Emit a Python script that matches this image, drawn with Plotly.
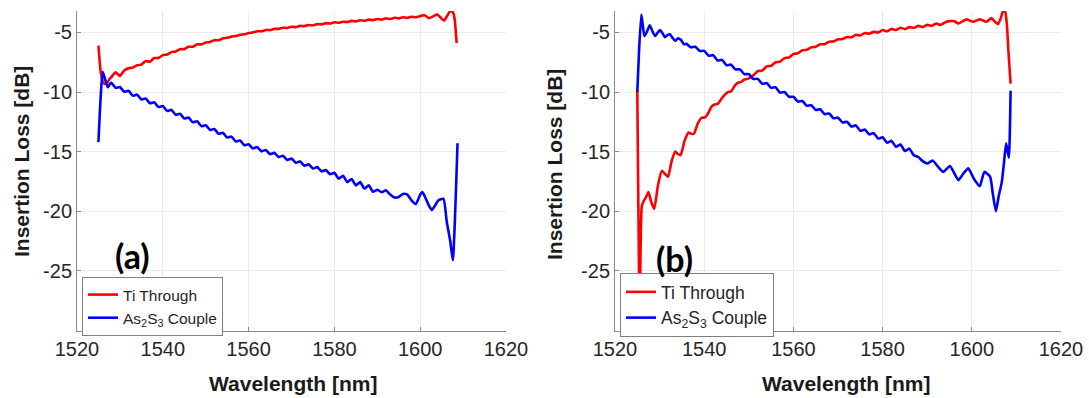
import plotly.graph_objects as go

# ---------------- Panel (a) ----------------
wl_a_ti = [1525.0, 1525.6, 1526.3, 1526.9, 1527.5,
           1528, 1529, 1530, 1531, 1532, 1533, 1534, 1535, 1536, 1537,
           1538, 1539, 1540, 1541, 1542, 1543, 1544, 1545, 1546, 1547,
           1548, 1549, 1550, 1551, 1552, 1553, 1554, 1555, 1556, 1557,
           1558, 1559, 1560, 1561, 1562, 1563, 1564, 1565, 1566, 1567,
           1568, 1569, 1570, 1571, 1572, 1573, 1574, 1575, 1576, 1577,
           1578, 1579, 1580, 1581, 1582, 1583, 1584, 1585, 1586, 1587,
           1588, 1589, 1590, 1591, 1592, 1593, 1594, 1595, 1596, 1597,
           1598, 1599, 1600, 1601, 1602, 1603, 1604, 1605,
           1605.6, 1606.3, 1607.0, 1607.6, 1608.0, 1608.5]
il_a_ti = [-6.1, -8.5, -9.3, -9.25, -8.95,
           -8.75, -8.35, -8.65, -8.2, -8.0, -7.95, -7.75, -7.7, -7.4, -7.45,
           -7.15, -7.15, -6.9, -6.85, -6.65, -6.6, -6.4, -6.4, -6.2, -6.2,
           -6.0, -6.0, -5.85, -5.8, -5.65, -5.65, -5.5, -5.45, -5.35, -5.3,
           -5.2, -5.15, -5.05, -5.0, -4.9, -4.9, -4.8, -4.8, -4.7, -4.7,
           -4.6, -4.62, -4.52, -4.55, -4.45, -4.47, -4.38, -4.4, -4.3, -4.32,
           -4.22, -4.25, -4.15, -4.18, -4.1, -4.12, -4.03, -4.07, -3.97, -4.02,
           -3.92, -3.97, -3.87, -3.92, -3.82, -3.87, -3.77, -3.82, -3.72, -3.78,
           -3.68, -3.72, -3.62, -3.55, -3.8, -3.65, -3.5, -3.85,
           -4.0, -3.6, -3.2, -3.3, -3.8, -5.9]

wl_a_as = [1525.0, 1526.0, 1526.6, 1527.2, 1527.7,
           1528, 1529, 1530, 1531, 1532, 1533, 1534, 1535, 1536, 1537,
           1538, 1539, 1540, 1541, 1542, 1543, 1544, 1545, 1546, 1547,
           1548, 1549, 1550, 1551, 1552, 1553, 1554, 1555, 1556, 1557,
           1558, 1559, 1560, 1561, 1562, 1563, 1564, 1565, 1566, 1567,
           1568, 1569, 1570, 1571, 1572, 1573, 1574, 1575, 1576, 1577,
           1578, 1579, 1580, 1581, 1582, 1583, 1584, 1585, 1586, 1587,
           1588, 1589, 1590, 1591, 1592, 1593, 1594, 1595, 1596, 1597,
           1598, 1599, 1600, 1600.5, 1601, 1602, 1602.7, 1603.5, 1604.2, 1605.4,
           1606.2, 1607.0, 1607.6, 1608.7]
il_a_as = [-14.2, -8.3, -9.0, -9.6, -9.3,
           -9.23, -9.65, -9.58, -9.98, -9.9, -10.3, -10.22, -10.62, -10.54, -10.94,
           -10.86, -11.26, -11.18, -11.58, -11.5, -11.9, -11.82, -12.22, -12.14, -12.54,
           -12.46, -12.86, -12.78, -13.18, -13.1, -13.5, -13.42, -13.82, -13.74, -14.14,
           -14.06, -14.46, -14.38, -14.74, -14.62, -14.98, -14.86, -15.22, -15.1, -15.46,
           -15.34, -15.7, -15.58, -15.94, -15.82, -16.18, -16.06, -16.42, -16.3, -16.66,
           -16.54, -16.9, -16.78, -17.27, -17.02, -17.56, -17.29, -17.83, -17.56, -18.1,
           -17.83, -18.37, -18.2, -18.4, -18.25, -18.6, -18.85, -18.8, -18.55, -18.6,
           -19.1, -19.4, -18.6, -18.4, -18.7, -19.5, -19.9, -19.5, -19.1, -18.95,
           -20.9, -22.5, -24.1, -14.3]

# ---------------- Panel (b) ----------------
wl_b_ti = [1525.0, 1525.55, 1526.0, 1526.5, 1527.0, 1527.5, 1528.1, 1528.8, 1529.6, 1530.5,
           1531.3, 1531.9, 1532.7, 1533.5, 1534.1, 1534.7, 1535.6, 1536.5, 1537.1, 1537.7,
           1538.6, 1539.5, 1540.1, 1540.7, 1541.7, 1542.3, 1543.0, 1544.0, 1544.7, 1545.3,
           1546.0, 1547.0, 1547.7, 1548.3, 1549.0, 1550, 1551, 1552, 1553, 1554,
           1555, 1556, 1557, 1558, 1559, 1560, 1561, 1562, 1563, 1564,
           1565, 1566, 1567, 1568, 1569, 1570, 1571, 1572, 1573, 1574,
           1575, 1576, 1577, 1578, 1579, 1580, 1581, 1582, 1583, 1584,
           1585, 1586, 1587, 1588, 1589, 1590, 1591, 1592, 1593, 1594,
           1595, 1596, 1597, 1598, 1598.8, 1599.5, 1600.3, 1601.0, 1601.8, 1602.5,
           1603.3, 1604.4, 1605.2, 1605.9, 1606.5, 1607.0, 1607.5, 1607.9, 1608.2, 1608.7]
il_b_ti = [-9.8, -29.0, -19.6, -19.1, -18.8, -18.4, -19.2, -19.8, -17.9, -16.6,
           -16.9, -17.1, -15.8, -15.0, -15.2, -15.3, -14.1, -13.4, -13.5, -13.5,
           -12.6, -12.15, -12.15, -11.9, -11.2, -11.05, -11.0, -10.5, -10.2, -10.0,
           -9.95, -9.4, -9.2, -9.15, -8.95, -8.85, -8.6, -8.25, -8.2, -7.85,
           -7.8, -7.5, -7.45, -7.15, -7.1, -6.8, -6.75, -6.5, -6.45, -6.25,
           -6.2, -6.0, -5.98, -5.78, -5.75, -5.58, -5.55, -5.38, -5.4, -5.2,
           -5.25, -5.05, -5.1, -4.95, -5.0, -4.8, -4.9, -4.7, -4.8, -4.6,
           -4.72, -4.55, -4.62, -4.45, -4.55, -4.35, -4.45, -4.25, -4.38, -4.15,
           -4.05, -4.05, -4.25, -4.05, -3.9, -4.0, -4.1, -4.0, -3.9, -4.0,
           -4.1, -3.8, -4.1, -4.3, -3.8, -3.2, -3.3, -4.5, -6.5, -9.3]

wl_b_as = [1525.0, 1525.4, 1525.9, 1526.2, 1526.6, 1527.2, 1527.8, 1528.4, 1529.0, 1529.6,
           1530.1, 1530.7, 1531.2, 1531.8, 1532.3, 1533.0, 1533.5, 1534.1, 1534.7, 1535.5,
           1536, 1537, 1538, 1539, 1540, 1541, 1542, 1543, 1544, 1545,
           1546, 1547, 1548, 1549, 1550, 1551, 1552, 1553, 1554, 1555,
           1556, 1557, 1558, 1559, 1560, 1561, 1562, 1563, 1564, 1565,
           1566, 1567, 1568, 1569, 1570, 1571, 1572, 1573, 1574, 1575,
           1576, 1577, 1578, 1579, 1580, 1581, 1582, 1583, 1584, 1585,
           1586, 1587, 1588, 1589, 1590, 1591.2, 1592.5, 1593.6, 1595.1, 1596.2,
           1597.0, 1598.0, 1599.2, 1600.5, 1601.8, 1602.8, 1604.1, 1604.7, 1605.4, 1606.0,
           1606.7, 1607.2, 1607.7, 1608.3, 1608.7]
il_b_as = [-10.0, -6.5, -3.5, -4.3, -5.3, -4.9, -4.4, -4.9, -5.3, -5.0,
           -4.8, -5.1, -5.4, -5.2, -5.15, -5.5, -5.7, -5.5, -5.6, -6.0,
           -5.95, -6.25, -6.2, -6.55, -6.55, -6.95, -6.9, -7.35, -7.3, -7.75,
           -7.7, -8.1, -8.1, -8.5, -8.5, -8.9, -8.9, -9.3, -9.25, -9.65,
           -9.6, -10.05, -10.0, -10.4, -10.4, -10.8, -10.75, -11.15, -11.1, -11.5,
           -11.45, -11.85, -11.8, -12.2, -12.15, -12.55, -12.5, -12.9, -12.8, -13.25,
           -13.15, -13.55, -13.45, -13.9, -13.8, -14.25, -14.1, -14.6, -14.4, -14.95,
           -14.75, -15.3, -15.45, -15.8, -16.0, -15.75, -16.3, -16.7, -16.2, -16.9,
           -17.4, -16.9, -16.4, -17.3, -17.9, -16.7, -17.1, -18.5, -20.0, -18.8,
           -17.6, -16.0, -14.3, -15.5, -9.9]

# ---------------- Axis ticks ----------------
x_ticks = [1520, 1540, 1560, 1580, 1600, 1620]
y_ticks = [-25, -20, -15, -10, -5]
y_tick_text = ["-25", "-20", "-15", "-10", "-5"]
series_names = ["Ti Through", "As<sub>2</sub>S<sub>3</sub> Couple"]

W, H = 1089, 398
RED, BLUE = "#ff0000", "#0000ff"
SANS = "Liberation Sans, Arial, sans-serif"
AXIS_GREY = "#8a8a8a"
GRID = "#ebebeb"


def px_x(p):
    return p / W


def px_y(p):
    return 1 - p / H


fig = go.Figure()

panels = [
    ("x", "y", "legend", wl_a_ti, il_a_ti, wl_a_as, il_a_as),
    ("x2", "y2", "legend2", wl_b_ti, il_b_ti, wl_b_as, il_b_as),
]
for xa, ya, lg, wt, it, wa, ia in panels:
    fig.add_trace(go.Scatter(
        x=wt, y=it, mode="lines", name=series_names[0], legend=lg,
        xaxis=xa, yaxis=ya,
        line=dict(color=RED, width=2.6, shape="spline", smoothing=0.5)))
    fig.add_trace(go.Scatter(
        x=wa, y=ia, mode="lines", name=series_names[1], legend=lg,
        xaxis=xa, yaxis=ya,
        line=dict(color=BLUE, width=2.6, shape="spline", smoothing=0.5)))

tick_font = dict(family=SANS, size=20, color="#262626")
xaxis_style = dict(
    range=[1520, 1620], tickmode="array", tickvals=x_ticks,
    showgrid=True, gridcolor=GRID, gridwidth=1, zeroline=False,
    showline=True, linecolor=AXIS_GREY, linewidth=1, automargin=False,
    ticks="inside", ticklen=4, tickcolor=AXIS_GREY, tickfont=tick_font,
)
yaxis_style = dict(
    range=[-30.05, -3.2], tickmode="array", tickvals=y_ticks, ticktext=y_tick_text,
    showgrid=True, gridcolor=GRID, gridwidth=1, zeroline=False,
    showline=True, linecolor=AXIS_GREY, linewidth=1, automargin=False,
    ticks="inside", ticklen=4, tickcolor=AXIS_GREY, tickfont=tick_font,
)

y_dom = [px_y(331), px_y(11)]
legend_style = dict(
    xanchor="left", yanchor="top", bgcolor="white",
    bordercolor="#7f7f7f", borderwidth=1, tracegroupgap=0,
)

fig.update_layout(
    width=W, height=H,
    margin=dict(l=0, r=0, t=0, b=0, autoexpand=False),
    paper_bgcolor="white", plot_bgcolor="white",
    xaxis=dict(domain=[px_x(77), px_x(506)], anchor="y", **xaxis_style),
    yaxis=dict(domain=y_dom, anchor="x", **yaxis_style),
    xaxis2=dict(domain=[px_x(615), px_x(1061)], anchor="y2", **xaxis_style),
    yaxis2=dict(domain=y_dom, anchor="x2", **yaxis_style),
    legend=dict(x=px_x(82), y=px_y(277),
                font=dict(family=SANS, size=15.5, color="#262626"), **legend_style),
    legend2=dict(x=px_x(620), y=px_y(273),
                 font=dict(family=SANS, size=17.5, color="#262626"), **legend_style),
    showlegend=True,
)

title_font = dict(family=SANS, size=21, color="#1a1a1a")
label_font = dict(family="Lato, Open Sans, sans-serif", size=34, color="black")
notes = [
    dict(text="<b>Wavelength [nm]</b>", x=px_x(293), y=px_y(383), font=title_font),
    dict(text="<b>Wavelength [nm]</b>", x=px_x(846), y=px_y(383), font=title_font),
    dict(text="<b>Insertion Loss [dB]</b>", x=px_x(21), y=px_y(162),
         font=title_font, textangle=-90),
    dict(text="<b>Insertion Loss [dB]</b>", x=px_x(555), y=px_y(165),
         font=title_font, textangle=-90),
    dict(text="<b>(a)</b>", x=px_x(132), y=px_y(255), font=label_font),
    dict(text="<b>(b)</b>", x=px_x(674), y=px_y(258), font=label_font),
]
for n in notes:
    fig.add_annotation(xref="paper", yref="paper", showarrow=False,
                       xanchor="center", yanchor="middle", **n)

fig.write_html("out.html")
